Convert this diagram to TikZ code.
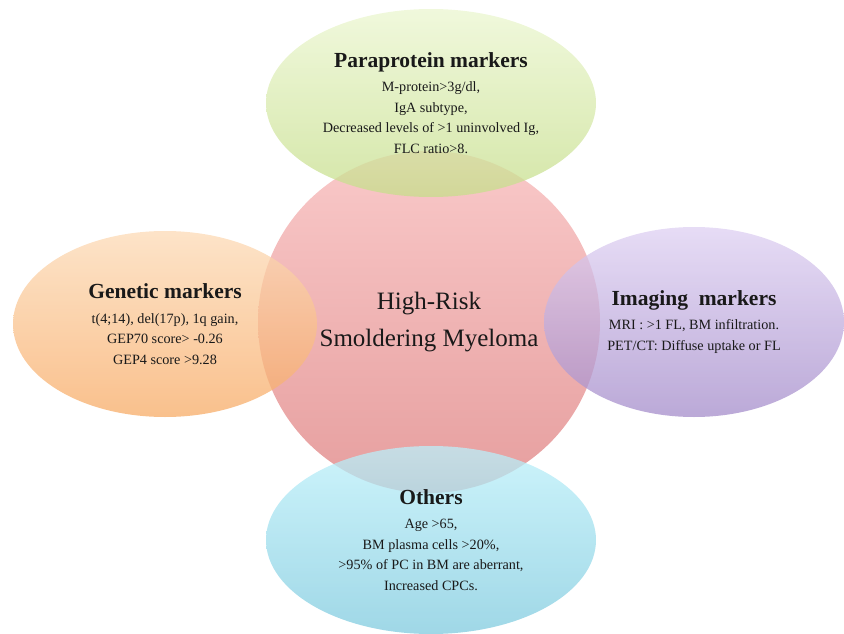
\documentclass[tikz,border=0pt]{standalone}
\usepackage{fontspec}
\setmainfont{Liberation Serif}
\usetikzlibrary{shapes.geometric}
\definecolor{pinkT}{RGB}{249,201,201}
\definecolor{pinkB}{RGB}{230,158,158}
\definecolor{greenT}{RGB}{235,246,208}
\definecolor{greenB}{RGB}{198,222,139}
\definecolor{orangeT}{RGB}{252,218,182}
\definecolor{orangeB}{RGB}{247,171,102}
\definecolor{purpleT}{RGB}{222,208,242}
\definecolor{purpleB}{RGB}{164,140,202}
\definecolor{blueT}{RGB}{188,240,250}
\definecolor{blueB}{RGB}{127,202,222}
\newcommand{\ttl}[1]{{\fontsize{21.5}{22}\selectfont\bfseries #1}}
\begin{document}
\begin{tikzpicture}[x=1pt,y=-1pt,
  blob/.style={ellipse, inner sep=0pt, align=center, fill opacity=0.75, text opacity=1,
    font=\fontsize{14.2}{20.5}\selectfont, text=black!90},
  side/.style={blob, minimum width=330, minimum height=188}]
\useasboundingbox (0,0) rectangle (844,634);
\node[blob, fill opacity=1, minimum width=342, minimum height=342, top color=pinkT, bottom color=pinkB,
  font=\fontsize{25}{37}\selectfont] (core) at (429,322) {High-Risk\\Smoldering Myeloma};
\node[side, top color=greenT, bottom color=greenB] (para) at (431,103)
  {\ttl{Paraprotein markers}\\[4pt] M-protein>3g/dl,\\ IgA subtype,\\ Decreased levels of >1 uninvolved Ig,\\ FLC ratio>8.};
\node[side, minimum width=304, minimum height=186, top color=orangeT, bottom color=orangeB] (gen) at (165,324)
  {\ttl{Genetic markers}\\[4pt] t(4;14), del(17p), 1q gain,\\ GEP70 score> -0.26\\ GEP4 score >9.28};
\node[side, minimum width=300, minimum height=190, top color=purpleT, bottom color=purpleB] (img) at (694,322)
  {\ttl{Imaging\ \ markers}\\[4pt] MRI : >1 FL, BM infiltration.\\ PET/CT: Diffuse uptake or FL};
\node[side, top color=blueT, bottom color=blueB] (oth) at (431,540)
  {\ttl{Others}\\[4pt] Age >65,\\ BM plasma cells >20\%,\\ >95\% of PC in BM are aberrant,\\ Increased CPCs.};
\end{tikzpicture}
\end{document}
